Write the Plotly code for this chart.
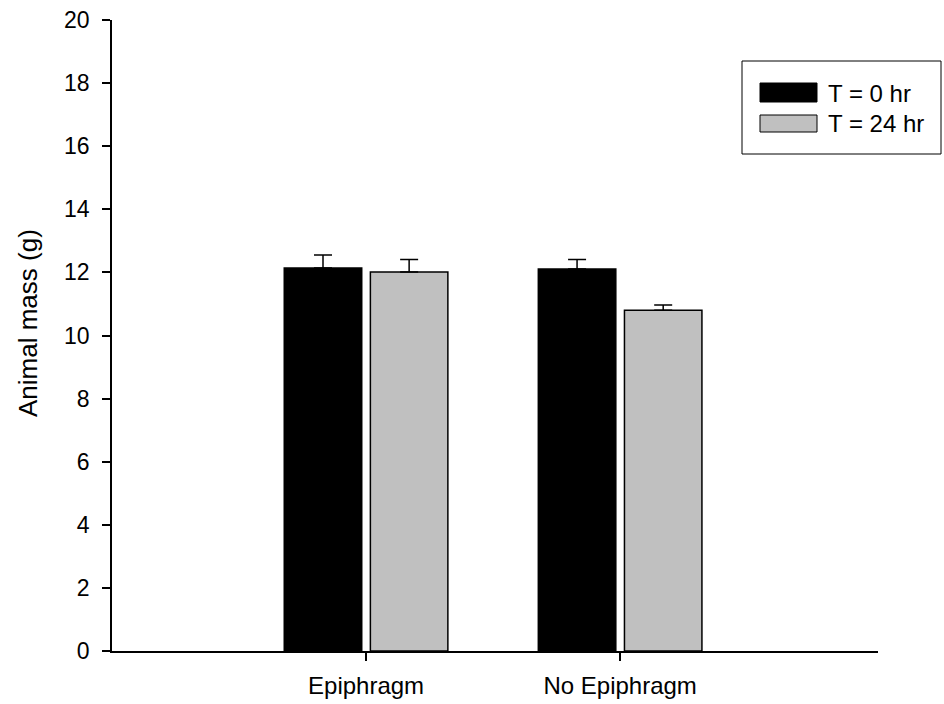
import plotly.graph_objects as go

categories = ["Epiphragm", "No Epiphragm"]
t0_values = [12.14, 12.11]
t0_errors = [0.41, 0.30]
t24_values = [12.01, 10.80]
t24_errors = [0.40, 0.17]
series_names = ["T = 0 hr", "T = 24 hr"]
y_ticks = list(range(0, 21, 2))
y_title = "Animal mass (g)"

W, H = 944, 704
L, R, T, B = 112, 878, 20, 651


def px_x(px):
    return (px - L) / (R - L)


def px_y(py):
    return (B - py) / (B - T)


xpos = list(range(len(categories)))
font = "Liberation Sans, Arial, sans-serif"

fig = go.Figure()
fig.add_trace(go.Bar(
    x=xpos, y=t0_values, name=series_names[0],
    width=0.305, offset=-0.322,
    marker=dict(color="black", line=dict(color="black", width=1.5)),
    error_y=dict(type="data", array=t0_errors, arrayminus=[0] * len(t0_errors),
                 symmetric=False, color="black", thickness=1.5, width=9),
    showlegend=False,
))
fig.add_trace(go.Bar(
    x=xpos, y=t24_values, name=series_names[1],
    width=0.305, offset=0.017,
    marker=dict(color="#c0c0c0", line=dict(color="black", width=1.5)),
    error_y=dict(type="data", array=t24_errors, arrayminus=[0] * len(t24_errors),
                 symmetric=False, color="black", thickness=1.5, width=9),
    showlegend=False,
))

# Legend drawn as box + swatches + text
shapes = [
    dict(type="rect", xref="paper", yref="paper",
         x0=px_x(742), x1=px_x(941), y0=px_y(154), y1=px_y(61),
         line=dict(color="black", width=1), fillcolor="white", layer="above"),
    dict(type="rect", xref="paper", yref="paper",
         x0=px_x(760), x1=px_x(817), y0=px_y(102), y1=px_y(83),
         line=dict(color="black", width=1), fillcolor="black", layer="above"),
    dict(type="rect", xref="paper", yref="paper",
         x0=px_x(760), x1=px_x(817), y0=px_y(132), y1=px_y(115),
         line=dict(color="black", width=1), fillcolor="#c0c0c0", layer="above"),
]
annotations = [
    dict(text=series_names[0], xref="paper", yref="paper", x=px_x(826), y=px_y(93),
         xanchor="left", yanchor="middle", showarrow=False,
         font=dict(family=font, size=24, color="black")),
    dict(text=series_names[1], xref="paper", yref="paper", x=px_x(826), y=px_y(124),
         xanchor="left", yanchor="middle", showarrow=False,
         font=dict(family=font, size=24, color="black")),
    dict(text=y_title, xref="paper", yref="paper", x=px_x(28), y=px_y(323),
         xanchor="center", yanchor="middle", showarrow=False, textangle=-90,
         font=dict(family=font, size=26, color="black")),
]

fig.update_layout(
    width=W, height=H,
    margin=dict(l=L, r=W - R, t=T, b=H - B, pad=0, autoexpand=False),
    paper_bgcolor="white", plot_bgcolor="white",
    font=dict(family=font, size=22, color="black"),
    barmode="overlay",
    shapes=shapes, annotations=annotations,
    xaxis=dict(
        range=[-1, 2.015], tickvals=xpos, ticktext=categories,
        showline=True, linecolor="black", linewidth=1.5,
        ticks="outside", ticklen=8, tickwidth=1.5, tickcolor="black",
        showgrid=False, zeroline=False, fixedrange=True, automargin=False,
        tickfont=dict(family=font, size=24), ticklabelstandoff=4,
    ),
    yaxis=dict(
        range=[0, 20], tickvals=y_ticks,
        showline=True, linecolor="black", linewidth=1.5,
        ticks="outside", ticklen=8, tickwidth=1.5, tickcolor="black",
        showgrid=False, zeroline=False, fixedrange=True, automargin=False,
        tickfont=dict(family=font, size=23), ticklabelstandoff=8,
    ),
)

fig.write_html("out.html")
